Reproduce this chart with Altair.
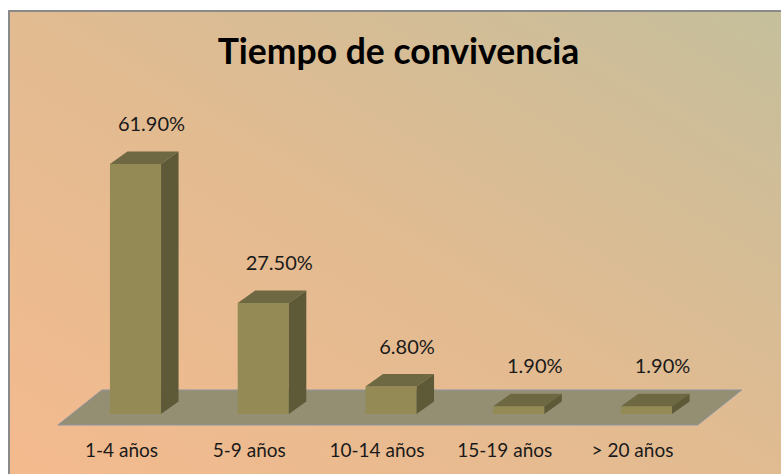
import altair as alt
import pandas as pd

# ---- data ----
title_text = "Tiempo de convivencia"
categories = ["1-4 años", "5-9 años", "10-14 años", "15-19 años", "> 20 años"]
values = [61.9, 27.5, 6.8, 1.9, 1.9]
value_labels = ["61.90%", "27.50%", "6.80%", "1.90%", "1.90%"]

# ---- 3D geometry (in data units) ----
HALF_W = 0.2      # half bar width (category units)
DDX = 0.137       # depth shift along x for bars
DDY = 3.1         # depth shift along y for bars
FL, FR = -0.607, 4.401   # floor front-left / front-right
FDX = 0.344              # floor depth along x
YF, YB = -2.72, 5.94     # floor front / back level

bars = pd.DataFrame({"idx": list(range(len(categories))), "cat": categories,
                     "v": values, "lab": value_labels})
bars["x0"] = bars["idx"] - HALF_W
bars["x1"] = bars["idx"] + HALF_W
bars["base"] = 0.0

top_rows, side_rows = [], []
for i, v in enumerate(values):
    a, b = i - HALF_W, i + HALF_W
    top_rows += [dict(g=f"b{i}", px=a, lo=v, hi=v),
                 dict(g=f"b{i}", px=a + DDX, lo=v, hi=v + DDY),
                 dict(g=f"b{i}", px=b, lo=v, hi=v + DDY),
                 dict(g=f"b{i}", px=b + DDX, lo=v + DDY, hi=v + DDY)]
    side_rows += [dict(g=f"b{i}", px=b, lo=0.0, hi=v),
                  dict(g=f"b{i}", px=b + DDX, lo=DDY, hi=v + DDY)]
top_df = pd.DataFrame(top_rows)
side_df = pd.DataFrame(side_rows)
floor_df = pd.DataFrame([dict(g="f", px=FL, lo=YF, hi=YF),
                         dict(g="f", px=FL + FDX, lo=YF, hi=YB),
                         dict(g="f", px=FR, lo=YF, hi=YB),
                         dict(g="f", px=FR + FDX, lo=YB, hi=YB)])

xs = alt.Scale(domain=[0, 4], range=[135.5, 646.5], nice=False, zero=False)
ys = alt.Scale(domain=[0, 61.9], range=[414, 164], nice=False, zero=False)

FONT = "Lato"

bg_grad = alt.Gradient(
    gradient="linear", x1=0, y1=1, x2=1, y2=0,
    stops=[alt.GradientStop(color="#F5BA8E", offset=0),
           alt.GradientStop(color="#E2BB91", offset=0.5),
           alt.GradientStop(color="#C4BF9C", offset=1)])

one = pd.DataFrame({"k": [0]})
background = alt.Chart(one).mark_rect(fill=bg_grad, stroke="#8A8A8A", strokeWidth=2).encode(
    x=alt.value(9), x2=alt.value(800), y=alt.value(11), y2=alt.value(500))

title = alt.Chart(one).mark_text(font=FONT, fontSize=35.5, fontWeight="bold", color="#000000",
                                 align="center", baseline="alphabetic").encode(
    x=alt.value(398.5), y=alt.value(64), text=alt.value(title_text))


def area_layer(df, color, stroke=None):
    kw = dict(fill=color, fillOpacity=1, interpolate="linear", orient="vertical")
    if stroke:
        kw.update(stroke=stroke, strokeWidth=1)
    return alt.Chart(df).mark_area(**kw).encode(
        x=alt.X("px:Q", scale=xs, axis=None),
        y=alt.Y("lo:Q", scale=ys, axis=None, stack=None),
        y2=alt.Y2("hi:Q"),
        detail="g:N")


floor = area_layer(floor_df, "#948F72", stroke="#8D94A0")
front = alt.Chart(bars).mark_rect(color="#948A55").encode(
    x=alt.X("x0:Q", scale=xs, axis=None), x2="x1:Q",
    y=alt.Y("v:Q", scale=ys, axis=None), y2="base:Q")
top = area_layer(top_df, "#6F6943")
side = area_layer(side_df, "#5E5A38")

val_text = alt.Chart(bars).mark_text(font=FONT, fontSize=20, color="#1A1A1A", dx=16, dy=-33,
                                     align="center", baseline="alphabetic").encode(
    x=alt.X("idx:Q", scale=xs, axis=None),
    y=alt.Y("v:Q", scale=ys, axis=None),
    text="lab:N")

cat_text = alt.Chart(bars).mark_text(font=FONT, fontSize=19, color="#1A1A1A", dx=-14, dy=43,
                                     align="center", baseline="alphabetic").encode(
    x=alt.X("idx:Q", scale=xs, axis=None),
    y=alt.Y("base:Q", scale=ys, axis=None),
    text="cat:N")

chart = alt.layer(background, title, floor, front, top, side, val_text, cat_text).properties(
    width=781, height=474, autosize="none", padding=0, background="#FFFFFF"
).configure_view(stroke=None)

chart.save("out.html", embed_options={"renderer": "svg", "actions": False})
